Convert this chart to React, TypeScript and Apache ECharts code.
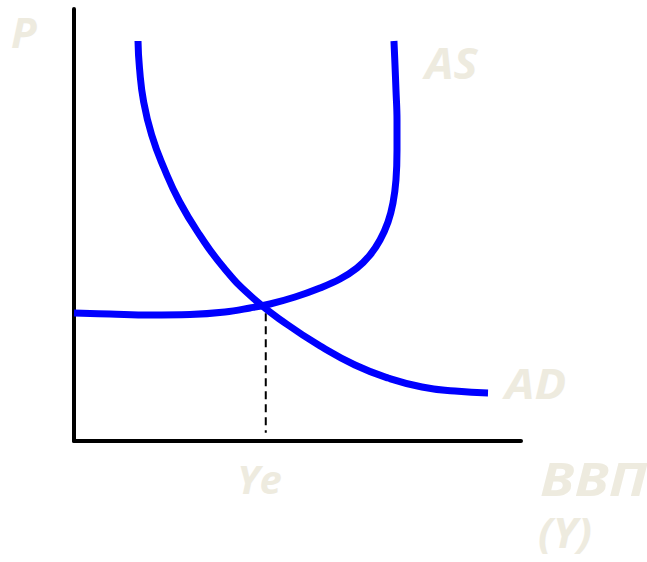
import React, { useEffect, useRef } from "react";
import * as echarts from "echarts";

// Aggregate demand curve (AD), axis units 0..100
const adX = [14.32, 14.65, 15.59, 17.38, 20.13, 23.65, 28.12, 33.56, 40.04, 47.87, 55.48, 62.86, 70.24, 77.85, 85.23, 92.62];
const adY = [92.59, 86.34, 78.47, 70.83, 63.19, 55.32, 47.69, 40.05, 33.10, 26.85, 21.76, 17.59, 14.58, 12.50, 11.57, 11.11];

// Aggregate supply curve (AS)
const asX = [0, 8.05, 17.0, 25.95, 33.78, 39.37, 43.85, 49.44, 55.03, 59.51, 63.31, 66.22, 68.46, 70.25, 71.36, 72.03, 72.26, 72.26, 72.03, 71.81, 71.58];
const asY = [29.63, 29.40, 29.17, 29.28, 29.86, 30.79, 31.71, 33.33, 35.42, 37.50, 40.05, 43.06, 46.53, 50.69, 55.09, 60.42, 67.36, 74.31, 81.25, 87.04, 92.59];

// Equilibrium output guide line
const yeX = [42.9, 42.9];
const yeY = [29.6, 1.9];

const labels = ["P", "AS", "AD", "Ye", "ВВП", "(Y)"];

const zip = (xs: number[], ys: number[]) => xs.map((x, i) => [x, ys[i]]);

export default function App() {
  const ref = useRef<HTMLDivElement>(null);
  useEffect(() => {
    if (!ref.current) return;
    const chart = echarts.init(ref.current, undefined, { renderer: "svg" });
    const place: { x: number; y: number; size: number; sx: number }[] = [
      { x: 11, y: 31, size: 42, sx: 1 },
      { x: 425, y: 63, size: 43, sx: 1.06 },
      { x: 505, y: 383, size: 42, sx: 1.12 },
      { x: 237, y: 478, size: 40, sx: 1 },
      { x: 540, y: 478, size: 47, sx: 1.18 },
      { x: 538, y: 532, size: 41, sx: 1.06 },
    ];
    chart.setOption({
      animation: false,
      grid: { left: 74, top: 9, right: 126, bottom: 121, containLabel: false },
      xAxis: {
        type: "value",
        min: 0,
        max: 100,
        axisLine: { show: true, onZero: false, lineStyle: { color: "#000", width: 4 } },
        axisTick: { show: false },
        axisLabel: { show: false },
        splitLine: { show: false },
      },
      yAxis: {
        type: "value",
        min: 0,
        max: 100,
        axisLine: { show: true, onZero: false, lineStyle: { color: "#000", width: 4 } },
        axisTick: { show: false },
        axisLabel: { show: false },
        splitLine: { show: false },
      },
      series: [
        {
          type: "line",
          data: zip(yeX, yeY),
          symbol: "none",
          z: 1,
          lineStyle: { color: "#000", width: 2, type: [8, 5] },
        },
        {
          type: "line",
          data: zip(adX, adY),
          symbol: "none",
          smooth: 0.5,
          z: 3,
          lineStyle: { color: "#0000FF", width: 7 },
        },
        {
          type: "line",
          data: zip(asX, asY),
          symbol: "none",
          smooth: 0.4,
          z: 3,
          lineStyle: { color: "#0000FF", width: 7 },
        },
      ],
      graphic: labels.map((t, i) => ({
        type: "text",
        x: place[i].x,
        y: place[i].y,
        scaleX: place[i].sx,
        style: {
          text: t,
          fill: "#EEEBDF",
          font: `italic bold ${place[i].size}px 'Open Sans'`,
          lineHeight: 40,
          verticalAlign: "middle",
          align: "left",
        },
      })),
    });
    return () => chart.dispose();
  }, []);
  return (
    <div
      ref={ref}
      style={{ position: "fixed", left: 0, top: 0, width: 647, height: 562, background: "#fff" }}
    />
  );
}
